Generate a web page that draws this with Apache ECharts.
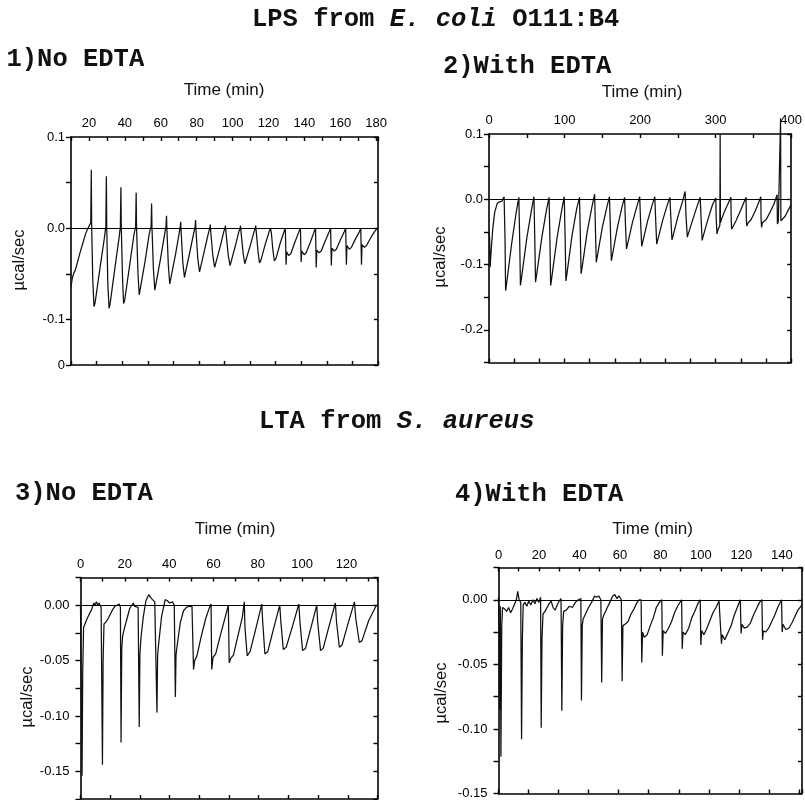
<!DOCTYPE html>
<html>
<head>
<meta charset="utf-8">
<script src="https://cdn.jsdelivr.net/npm/echarts@6/dist/echarts.min.js"></script>
<style>
html,body{margin:0;padding:0;background:#fff;}
#chart{width:805px;height:800px;}
</style>
</head>
<body>
<div id="chart"></div>
<script>
// ---------- DATA: [time (min), heat flow (µcal/sec)] ----------
const lpsNoEdta = [
[10,-0.064],[10.8,-0.054],[11.6,-0.049],[12.4,-0.046],[13.5,-0.038],[15,-0.027],[16.5,-0.017],[18,-0.007],[19.2,-0.001],[20,0.002],[20.6,0.001],[21.0,0.006],
[21.3,0.064],[21.5,0.004],[22.1,-0.055],[22.8,-0.086],[23.4,-0.082],[26.2,-0.043],[28.5,-0.012],[29.4,0.002],
[29.7,0.057],[29.9,0.002],[30.5,-0.06],[31.2,-0.088],[31.7,-0.084],[34.5,-0.043],[36.8,-0.01],[37.5,0.002],
[37.8,0.045],[38.0,0.002],[38.7,-0.055],[39.3,-0.0825],[39.9,-0.079],[42.5,-0.043],[45.0,-0.008],[46.0,0.002],
[46.3,0.039],[46.5,0.002],[47.3,-0.05],[48.0,-0.073],[48.6,-0.071],[51.2,-0.037],[53.6,-0.006],[54.6,0.002],
[54.9,0.027],[55.1,0.001],[55.9,-0.045],[56.7,-0.068],[57.3,-0.066],[59.9,-0.033],[62.2,-0.006],[62.9,0.002],
[63.2,0.0135],[63.4,0.0],[64.2,-0.04],[65.0,-0.061],[65.6,-0.059],[68.2,-0.029],[70.2,-0.006],[70.8,0.001],
[71.1,0.007],[71.3,-0.002],[72.3,-0.038],[73.2,-0.054],[73.8,-0.052],[76.3,-0.025],[78.5,-0.004],[79.1,0.001],
[79.4,0.009],[79.6,-0.002],[80.6,-0.033],[81.6,-0.048],[82.3,-0.046],[84.6,-0.022],[86.7,-0.004],[87.3,0.0],
[87.6,0.004],[87.8,-0.003],[89.0,-0.03],[90.0,-0.043],[90.8,-0.041],[93.0,-0.021],[95.2,-0.003],[95.8,0.0],
[96.0,0.003],[96.3,-0.004],[97.6,-0.03],[98.6,-0.041],[99.4,-0.039],[101.6,-0.019],[103.6,-0.003],[104.2,0.0],
[104.4,0.003],[104.7,-0.004],[105.9,-0.028],[106.8,-0.039],[107.6,-0.037],[110,-0.018],[112.1,-0.003],[112.7,0.0],
[112.9,0.003],[113.2,-0.004],[114.2,-0.026],[115.0,-0.038],[115.8,-0.035],[118.3,-0.017],[120.5,-0.003],[121.1,0.0],
[121.3,0.002],[121.6,-0.005],[122.5,-0.025],[123.3,-0.036],[124.2,-0.033],[126.6,-0.016],[128.8,-0.003],[129.4,0.0],
[129.6,0.002],[129.8,-0.040],[130.1,-0.026],[131.2,-0.030],[132.4,-0.028],[134.6,-0.016],[136.9,-0.004],[137.8,0.0],
[138.0,0.002],[138.2,-0.037],[138.5,-0.025],[139.8,-0.029],[141,-0.027],[143.2,-0.016],[145.4,-0.004],[146.2,0.0],
[146.4,0.002],[146.6,-0.043],[146.9,-0.024],[148.1,-0.027],[149.4,-0.025],[151.6,-0.014],[153.8,-0.004],[154.6,0.0],
[154.8,0.002],[155.0,-0.041],[155.3,-0.022],[156.6,-0.025],[157.8,-0.023],[160,-0.013],[162.2,-0.004],[163.0,0.0],
[163.2,0.002],[163.4,-0.040],[163.7,-0.019],[165,-0.023],[166.2,-0.021],[168.4,-0.012],[170.6,-0.004],[171.4,0.0],
[171.6,0.001],[171.8,-0.040],[172.1,-0.018],[173.4,-0.021],[174.6,-0.019],[176.8,-0.011],[179,-0.004],[181,0.001]
];
const lpsWithEdta = [
[0,-0.05],[0.8,-0.06],[1.5,-0.104],[2.5,-0.085],[5,-0.045],[7.5,-0.02],[9.5,-0.012],[11,-0.006],[12.5,-0.003],[14,-0.004],[15.5,-0.001],[17,-0.003],[18.5,0.0],[20,0.004],[20.6,0.005],
[21.2,-0.06],[22.0,-0.14],[23.0,-0.132],[30,-0.068],[36,-0.02],[39.5,0.003],
[40.0,0.004],[40.6,-0.06],[41.6,-0.132],[42.5,-0.125],[50,-0.06],[56,-0.018],[59.5,0.004],
[60.0,0.004],[60.6,-0.06],[61.6,-0.127],[62.5,-0.12],[70,-0.058],[76,-0.017],[79.5,0.003],
[80.0,0.003],[80.6,-0.06],[81.6,-0.132],[82.5,-0.125],[90,-0.06],[96,-0.018],[99.6,0.004],
[100.2,0.004],[100.8,-0.06],[101.8,-0.125],[102.7,-0.118],[110,-0.055],[116,-0.015],[119.8,0.003],
[120.3,0.003],[120.9,-0.055],[121.9,-0.114],[122.8,-0.108],[130,-0.05],[136,-0.013],[139.8,0.008],
[140.3,0.009],[140.9,-0.045],[142,-0.0965],[143,-0.09],[150,-0.043],[156,-0.012],[159.5,0.004],
[160,0.004],[160.7,-0.045],[162,-0.094],[163,-0.088],[170,-0.043],[176,-0.012],[179.5,0.003],
[180,0.003],[180.7,-0.04],[182,-0.076],[183,-0.071],[190,-0.035],[196,-0.01],[199.5,0.004],
[200,0.004],[200.7,-0.035],[202.2,-0.072],[203.2,-0.067],[210,-0.033],[216,-0.009],[219.5,0.004],
[220,0.004],[220.7,-0.033],[222,-0.0685],[223,-0.064],[230,-0.032],[236,-0.009],[239.5,0.003],
[240.1,0.003],[240.8,-0.03],[242.2,-0.062],[243.2,-0.058],[250,-0.027],[256,-0.004],[259.6,0.012],
[260.1,0.0137],[260.8,-0.025],[262.5,-0.058],[263.5,-0.055],[270,-0.03],[276,-0.009],[279.6,0.003],
[280.1,0.003],[280.8,-0.03],[282.2,-0.063],[283.2,-0.058],[290,-0.03],[296,-0.008],[300.2,0.002],
[300.8,-0.03],[301.8,-0.053],[303,-0.047],[305.6,-0.040],[306.0,0.1],[306.4,-0.036],[308,-0.03],[312,-0.018],[316,-0.008],[320.2,0.003],
[320.6,-0.03],[321.2,-0.046],[322.5,-0.043],[327,-0.033],[333,-0.017],[337,-0.006],[340.3,0.003],
[340.7,-0.03],[341.3,-0.041],[342.5,-0.037],[347,-0.031],[352,-0.019],[356,-0.008],[359.8,0.004],
[360.2,-0.03],[360.8,-0.043],[362,-0.036],[367,-0.031],[372,-0.02],[377,-0.008],[381.4,0.007],
[381.8,-0.038],[383,-0.034],[385.6,-0.033],[386.0,0.124],[386.4,-0.033],[389,-0.031],[392,-0.026],[396,-0.017],[400,-0.008]
];
const ltaNoEdta = [
[0,-0.001],[0.4,0.0],[0.7,-0.154],[1.0,-0.06],[1.4,-0.02],[2.2,-0.016],[3,-0.012],[4,-0.008],[5,-0.004],[6,0.002],[6.5,0.0],[7.2,0.003],[7.8,0.0],[8.4,0.002],[9.3,-0.002],[9.7,-0.001],
[9.9,-0.144],[10.2,-0.05],[10.6,-0.017],[11.5,-0.015],[12.5,-0.012],[13.5,-0.008],[14.5,-0.004],[15.5,-0.001],[16.5,0.0],[17.5,0.001],[18.0,-0.002],
[18.3,-0.124],[18.6,-0.04],[19.0,-0.028],[19.8,-0.021],[21,-0.012],[22.2,-0.003],[23,-0.002],[23.8,0.002],[24.5,-0.001],[25.3,0.0],[26,-0.002],
[26.5,-0.110],[26.8,-0.045],[27.3,-0.029],[28.3,-0.011],[29.5,0.004],[30.8,0.0095],[31.6,0.007],[32.5,0.005],[33.5,0.003],[34.2,0.002],
[34.5,-0.097],[34.8,-0.045],[35.3,-0.034],[36.6,-0.01],[38.2,0.005],[39.2,0.004],[40.2,0.002],[41.5,0.003],[42.3,0.0],
[42.8,-0.083],[43.1,-0.045],[43.5,-0.038],[45,-0.016],[46.5,-0.005],[47.8,-0.002],[49,-0.001],[50.3,-0.001],[50.8,-0.002],
[51,-0.058],[51.5,-0.05],[52.5,-0.046],[54.5,-0.028],[56.5,-0.012],[58.2,-0.002],[58.9,0.001],
[59.2,-0.058],[59.8,-0.047],[61,-0.044],[63,-0.028],[65,-0.013],[66.7,0.0],
[67.1,-0.052],[67.8,-0.048],[69,-0.045],[71,-0.028],[73,-0.011],[73.9,0.003],
[74.2,-0.02],[75.2,-0.0457],[76.5,-0.042],[79,-0.022],[81.8,0.001],
[82.2,-0.015],[83.2,-0.044],[84.5,-0.042],[87,-0.022],[89.9,0.0],
[90.4,-0.015],[91.5,-0.040],[92.8,-0.038],[95.5,-0.02],[98.5,0.001],
[99,-0.015],[100.2,-0.041],[101.5,-0.039],[104,-0.02],[106.6,0.0],
[107,-0.015],[108.3,-0.041],[109.5,-0.039],[112,-0.02],[115,0.002],
[115.5,-0.015],[116.8,-0.038],[118,-0.036],[120.5,-0.018],[123.6,0.003],
[124.2,-0.012],[125.8,-0.0337],[127,-0.032],[130,-0.014],[133.5,0.0]
];
const ltaWithEdta = [
[0,0.002],[0.3,0.001],[0.6,-0.085],[0.9,-0.005],[1.2,-0.1215],[1.6,-0.02],[2.0,-0.006],[3,-0.007],[4,-0.009],[5,-0.006],[6,-0.01],[7,-0.007],[8,-0.003],[8.8,0.0],[9.5,0.0065],[10.2,0.0],[11.0,-0.002],
[11.4,-0.108],[11.8,-0.03],[12.2,-0.004],[13,-0.002],[14,-0.005],[15,-0.001],[16,-0.004],[17,0.0],[18,-0.003],[19,0.001],[20,-0.002],[20.8,0.002],
[21.1,-0.099],[21.5,-0.03],[22,-0.011],[23,-0.009],[24,-0.006],[25,-0.003],[26,-0.001],[27,-0.006],[28,-0.008],[29,-0.004],[30,-0.001],[30.9,0.001],
[31.3,-0.086],[31.7,-0.02],[32.2,-0.009],[33.5,-0.008],[35,-0.005],[36.5,-0.006],[38,-0.002],[39.5,0.0],[40.7,0.001],
[41.0,-0.078],[41.4,-0.02],[41.8,-0.015],[43,-0.011],[44.5,-0.006],[46,-0.002],[47.5,0.003],[48.5,0.002],[49.5,0.003],[50.6,0.0],
[51.0,-0.064],[51.4,-0.015],[52,-0.012],[53.5,-0.007],[55,-0.002],[56.5,0.003],[57.5,0.004],[58.5,0.001],[59.5,0.003],[60.7,0.0],
[61.1,-0.063],[61.5,-0.02],[62.5,-0.019],[64,-0.017],[65.5,-0.011],[67,-0.007],[68.5,-0.002],[69.5,0.0],[70.5,0.0],
[70.8,-0.0485],[71.2,-0.025],[72,-0.029],[73.5,-0.027],[75,-0.02],[76.5,-0.014],[78,-0.006],[79.5,-0.002],[80.7,0.0],
[81.0,-0.0434],[81.4,-0.024],[82.5,-0.026],[84,-0.022],[85.5,-0.017],[87,-0.01],[88.5,-0.005],[90.5,0.0],
[90.8,-0.038],[91.2,-0.025],[92.3,-0.027],[94,-0.022],[95.5,-0.014],[97,-0.009],[98.5,-0.003],[99.7,0.0],
[100.0,-0.035],[100.4,-0.024],[101.5,-0.027],[103,-0.022],[104.5,-0.016],[106,-0.01],[107.5,-0.006],[109,-0.001],[109.9,0.0],
[110.2,-0.034],[110.6,-0.027],[111.8,-0.031],[113.3,-0.026],[115,-0.02],[116.5,-0.012],[118,-0.006],[119.5,0.0],
[119.9,-0.026],[120.3,-0.019],[121.5,-0.022],[123,-0.021],[124.5,-0.018],[126,-0.012],[127.5,-0.007],[129,-0.002],[130.2,0.0],
[130.5,-0.031],[130.9,-0.024],[132,-0.025],[133.5,-0.022],[135,-0.017],[136.5,-0.012],[138,-0.006],[139.9,0.0],
[140.2,-0.025],[140.6,-0.019],[142,-0.023],[143.5,-0.022],[145,-0.018],[146.5,-0.013],[148,-0.008],[150,-0.004]
];

// ---------- TICK LABELS ----------
const p1XTicks = [20,40,60,80,100,120,140,160,180];
const p1XLabels = ['20','40','60','80','100','120','140','160','180'];
const p1YTicks = [0.1,0,-0.1,-0.15];
const p1YLabels = ['0.1','0.0','-0.1','0'];
const p2XTicks = [0,100,200,300,400];
const p2XLabels = ['0','100','200','300','400'];
const p2YTicks = [0.1,0,-0.1,-0.2];
const p2YLabels = ['0.1','0.0','-0.1','-0.2'];
const p3XTicks = [0,20,40,60,80,100,120];
const p3XLabels = ['0','20','40','60','80','100','120'];
const p3YTicks = [0,-0.05,-0.1,-0.15];
const p3YLabels = ['0.00','-0.05','-0.10','-0.15'];
const p4XTicks = [0,20,40,60,80,100,120,140];
const p4XLabels = ['0','20','40','60','80','100','120','140'];
const p4YTicks = [0,-0.05,-0.1,-0.15];
const p4YLabels = ['0.00','-0.05','-0.10','-0.15'];

const mainTitles = ['LPS from ', 'E. coli', ' O111:B4', 'LTA from ', 'S. aureus'];
const panelTitles = ['1)No EDTA','2)With EDTA','3)No EDTA','4)With EDTA'];
const xName = 'Time (min)';
const yName = 'µcal/sec';

// ---------- HELPERS ----------
function fmt(ticks, labels){
  return function(v){
    for (let i=0;i<ticks.length;i++){ if (Math.abs(v-ticks[i])<1e-6*Math.max(1,Math.abs(ticks[i]))+1e-9) return labels[i]; }
    return '';
  };
}
const AX = {color:'#000', width:1.6};
const LBL = {color:'#000', fontSize:13, fontFamily:'Liberation Sans, Arial, sans-serif'};

function panel(gi, cfg){
  const xs = [
    {gridIndex:gi, type:'value', position:'top', min:cfg.xmin, max:cfg.xmax, interval:cfg.xint,
     axisLine:{show:true,onZero:false,lineStyle:AX},
     axisTick:{show:true,inside:true,length:4,lineStyle:{color:'#000',width:1.4}},
     axisLabel:Object.assign({show:true,margin:cfg.xMargin,formatter:fmt(cfg.xt,cfg.xl),showMinLabel:true,showMaxLabel:true},LBL),
     splitLine:{show:false}},
    {gridIndex:gi, type:'value', position:'bottom', min:0, max:cfg.bmax, interval:1,
     axisLine:{show:true,onZero:false,lineStyle:AX},
     axisTick:{show:true,inside:true,length:4,lineStyle:{color:'#000',width:1.4}},
     axisLabel:{show:false}, splitLine:{show:false}}
  ];
  const ys = [
    {gridIndex:gi, type:'value', position:'left', min:cfg.ymin, max:cfg.ymax, interval:cfg.yint,
     axisLine:{show:true,onZero:false,lineStyle:AX},
     axisTick:{show:true,inside:false,length:5,lineStyle:{color:'#000',width:1.4}},
     axisLabel:Object.assign({show:true,margin:cfg.yMargin,formatter:fmt(cfg.yt,cfg.yl),showMinLabel:true,showMaxLabel:true},LBL),
     splitLine:{show:false}},
    {gridIndex:gi, type:'value', position:'right', min:cfg.ymin, max:cfg.ymax, interval:cfg.yint,
     axisLine:{show:true,onZero:false,lineStyle:AX},
     axisTick:{show:true,inside:true,length:4,lineStyle:{color:'#000',width:1.4}},
     axisLabel:{show:false}, splitLine:{show:false}}
  ];
  return {xs, ys};
}

const cfgs = [
  {grid:{left:71,top:137,width:307,height:228}, xmin:10,xmax:181,xint:10,xt:p1XTicks,xl:p1XLabels,xMargin:7,bmax:12,
   ymin:-0.15,ymax:0.1,yint:0.05,yt:p1YTicks,yl:p1YLabels,yMargin:6,data:lpsNoEdta,clip:true},
  {grid:{left:489,top:134,width:307,height:228.5}, xmin:0,xmax:400,xint:50,xt:p2XTicks,xl:p2XLabels,xMargin:7,bmax:12,
   ymin:-0.25,ymax:0.1,yint:0.05,yt:p2YTicks,yl:p2YLabels,yMargin:6,data:lpsWithEdta,clip:false},
  {grid:{left:80.5,top:577.5,width:297,height:221.5}, xmin:0,xmax:134,xint:10,xt:p3XTicks,xl:p3XLabels,xMargin:7,bmax:10,
   ymin:-0.175,ymax:0.025,yint:0.025,yt:p3YTicks,yl:p3YLabels,yMargin:11,data:ltaNoEdta,clip:true},
  {grid:{left:498.5,top:567.5,width:308.5,height:230}, xmin:0,xmax:150,xint:10,xt:p4XTicks,xl:p4XLabels,xMargin:6,bmax:10.1,
   ymin:-0.15,ymax:0.025,yint:0.025,yt:p4YTicks,yl:p4YLabels,yMargin:11,data:ltaWithEdta,clip:true}
];

const grids=[], xAxes=[], yAxes=[], series=[];
cfgs.forEach((c,i)=>{
  grids.push(Object.assign({containLabel:false},c.grid));
  const p = panel(i,c);
  xAxes.push(...p.xs); yAxes.push(...p.ys);
  series.push({
    type:'line', xAxisIndex:2*i, yAxisIndex:2*i, data:c.data, showSymbol:false, symbol:'none',
    clip:c.clip, lineStyle:{color:'#111', width:1.25}, animation:false, silent:true,
    markLine:{silent:true, symbol:'none', label:{show:false}, animation:false,
      lineStyle:{color:'#000',width:1.2,type:'solid'}, data:[{yAxis:0}]}
  });
});

const monoBold = {fontFamily:'"Liberation Mono", "Courier New", monospace', fontWeight:'bold', fontSize:25.5, fill:'#111'};
function textEl(x,y,txt,extra){
  return {type:'text', x:x, y:y, silent:true, style:Object.assign({text:txt, textAlign:'left', textVerticalAlign:'middle'}, monoBold, extra||{})};
}
const richIt = {a:{fontFamily:'"Liberation Mono", monospace',fontWeight:'bold',fontSize:25.5,fill:'#111'},
                b:{fontFamily:'"Liberation Mono", monospace',fontWeight:'bold',fontStyle:'italic',fontSize:25.5,fill:'#111'}};
const sansName = {fontFamily:'Liberation Sans, Arial, sans-serif', fontSize:17, fill:'#111', textAlign:'center', textVerticalAlign:'middle'};
const yNameStyle = {fontFamily:'Liberation Sans, Arial, sans-serif', fontSize:16.5, fill:'#111', textAlign:'center', textVerticalAlign:'middle'};

const graphics = [
  textEl(252,20,'{a|'+mainTitles[0]+'}{b|'+mainTitles[1]+'}{a|'+mainTitles[2]+'}',{rich:richIt}),
  textEl(259,422,'{a|'+mainTitles[3]+'}{b|'+mainTitles[4]+'}',{rich:richIt}),
  textEl(6.5,60,panelTitles[0]),
  textEl(443,67,panelTitles[1]),
  textEl(15,494,panelTitles[2]),
  textEl(455,495,panelTitles[3]),
  {type:'text',x:224,y:90,silent:true,style:Object.assign({text:xName},sansName)},
  {type:'text',x:642,y:92.5,silent:true,style:Object.assign({text:xName},sansName)},
  {type:'text',x:235,y:529,silent:true,style:Object.assign({text:xName},sansName)},
  {type:'text',x:652.5,y:529,silent:true,style:Object.assign({text:xName},sansName)},
  {type:'text',x:19,y:260,rotation:Math.PI/2,silent:true,style:Object.assign({text:yName},yNameStyle)},
  {type:'text',x:440,y:257,rotation:Math.PI/2,silent:true,style:Object.assign({text:yName},yNameStyle)},
  {type:'text',x:27.5,y:697,rotation:Math.PI/2,silent:true,style:Object.assign({text:yName},yNameStyle)},
  {type:'text',x:441,y:693,rotation:Math.PI/2,silent:true,style:Object.assign({text:yName},yNameStyle)}
];

const chart = echarts.init(document.getElementById('chart'), null, {renderer:'canvas'});
chart.setOption({
  backgroundColor:'#ffffff',
  animation:false,
  grid:grids, xAxis:xAxes, yAxis:yAxes, series:series,
  graphic:graphics
});
</script>
</body>
</html>
